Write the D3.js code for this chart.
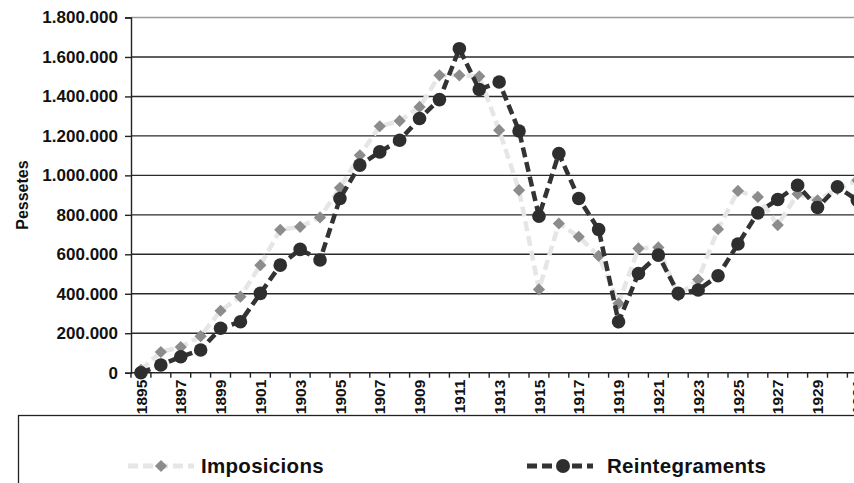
<!DOCTYPE html>
<html>
<head>
<meta charset="utf-8">
<script src="https://cdn.jsdelivr.net/npm/d3@7"></script>
<style>
  body { margin: 0; background: #fff; }
  svg { display: block; font-family: "Liberation Sans", Arial, sans-serif; }
</style>
</head>
<body>
<div id="chart"></div>
<script>
var years = [1895, 1896, 1897, 1898, 1899, 1900, 1901, 1902, 1903, 1904, 1905, 1906,
  1907, 1908, 1909, 1910, 1911, 1912, 1913, 1914, 1915, 1916, 1917, 1918, 1919, 1920,
  1921, 1922, 1923, 1924, 1925, 1926, 1927, 1928, 1929, 1930, 1931];

var imposicions = [15000, 105000, 130000, 185000, 314000, 385000, 545000, 724000, 739000,
  787000, 937000, 1102000, 1249000, 1276000, 1347000, 1507000, 1507000, 1502000, 1229000,
  925000, 422000, 756000, 689000, 592000, 351000, 630000, 635000, 390000, 472000, 727000,
  921000, 891000, 748000, 906000, 874000, 930000, 975000];

var reintegraments = [0, 39000, 81000, 115000, 225000, 258000, 402000, 545000, 625000,
  571000, 883000, 1052000, 1119000, 1178000, 1288000, 1384000, 1642000, 1435000, 1473000,
  1225000, 793000, 1111000, 883000, 726000, 258000, 503000, 596000, 402000, 419000,
  491000, 652000, 810000, 878000, 950000, 837000, 942000, 874000];

var yTicks = [0, 200000, 400000, 600000, 800000, 1000000, 1200000, 1400000, 1600000, 1800000];

var width = 854, height = 483;

var svg = d3.select("#chart").append("svg")
    .attr("width", width)
    .attr("height", height);

var x = d3.scaleBand().domain(years).range([131, 131 + years.length * 19.9]);
var y = d3.scaleLinear().domain([0, 1800000]).range([372.7, 17.5]);

var locale = d3.formatLocale({ decimal: ",", thousands: ".", grouping: [3], currency: ["", ""] });
var fmt = locale.format(",d");

function cx(d) { return x(d) + x.bandwidth() / 2; }

// gridlines
svg.append("g").selectAll("line")
  .data(yTicks.slice(1))
  .enter().append("line")
    .attr("x1", 131).attr("x2", width)
    .attr("y1", function(d) { return y(d); })
    .attr("y2", function(d) { return y(d); })
    .attr("stroke", function(d) { return d === 1800000 ? "#9a9a9a" : "#2a2a2a"; })
    .attr("stroke-width", 1.4);

// y axis
var yAxis = svg.append("g")
    .attr("transform", "translate(131,0)")
    .call(d3.axisLeft(y).tickValues(yTicks).tickFormat(fmt).tickSize(6).tickPadding(7));
yAxis.select(".domain").attr("stroke", "#222").attr("stroke-width", 1.4);
yAxis.selectAll(".tick line").attr("stroke", "#222").attr("stroke-width", 1.4);
yAxis.selectAll("text")
    .attr("font-size", "17px")
    .attr("font-weight", "bold")
    .attr("fill", "#111")
    .attr("font-family", "Liberation Sans, Arial, sans-serif");

// x axis
var xAxis = svg.append("g")
    .attr("transform", "translate(0," + y(0) + ")")
    .call(d3.axisBottom(x).tickSize(0).tickFormat(function(d) { return (d - 1895) % 2 === 0 ? d : ""; }));
xAxis.select(".domain").attr("stroke", "#222").attr("stroke-width", 1.4).attr("d", "M131,0H" + width);
xAxis.selectAll("text")
    .attr("transform", "rotate(-90)")
    .attr("x", -7)
    .attr("y", 0)
    .attr("dy", "0.36em")
    .attr("text-anchor", "end")
    .attr("font-size", "15.5px")
    .attr("font-weight", "bold")
    .attr("fill", "#111")
    .attr("font-family", "Liberation Sans, Arial, sans-serif");

// band boundary ticks
svg.append("g").selectAll("line")
  .data(years)
  .enter().append("line")
    .attr("x1", function(d) { return x(d); })
    .attr("x2", function(d) { return x(d); })
    .attr("y1", y(0)).attr("y2", y(0) + 5)
    .attr("stroke", "#222").attr("stroke-width", 1.4);

// y axis title
svg.append("text")
    .attr("transform", "translate(28," + ((y(0) + y(1800000)) / 2) + ") rotate(-90)")
    .attr("text-anchor", "middle")
    .attr("font-size", "16px")
    .attr("font-weight", "bold")
    .attr("fill", "#111")
    .text("Pessetes");

var line = d3.line()
    .x(function(d, i) { return cx(years[i]); })
    .y(function(d) { return y(d); });

// Imposicions
svg.append("path")
    .datum(imposicions)
    .attr("d", line)
    .attr("fill", "none")
    .attr("stroke", "#e6e6e6")
    .attr("stroke-width", 4.5)
    .attr("stroke-dasharray", "10,5");

var diamond = d3.symbol().type(d3.symbolDiamond2).size(95);
svg.append("g").selectAll("path")
  .data(imposicions)
  .enter().append("path")
    .attr("d", diamond)
    .attr("transform", function(d, i) { return "translate(" + cx(years[i]) + "," + y(d) + ")"; })
    .attr("fill", "#8c8c8c");

// Reintegraments
svg.append("path")
    .datum(reintegraments)
    .attr("d", line)
    .attr("fill", "none")
    .attr("stroke", "#333")
    .attr("stroke-width", 4.5)
    .attr("stroke-dasharray", "10,5");

svg.append("g").selectAll("circle")
  .data(reintegraments)
  .enter().append("circle")
    .attr("cx", function(d, i) { return cx(years[i]); })
    .attr("cy", function(d) { return y(d); })
    .attr("r", 6.8)
    .attr("fill", "#2e2e2e");

// legend
svg.append("rect")
    .attr("x", 18.5).attr("y", 415.5)
    .attr("width", 900).attr("height", 100)
    .attr("fill", "#fff")
    .attr("stroke", "#222")
    .attr("stroke-width", 1.3);

var legendItems = [
  { name: "Imposicions", x0: 128, color: "#e6e6e6", mark: "#8c8c8c", shape: "diamond", tx: 201 },
  { name: "Reintegraments", x0: 527, color: "#333", mark: "#2e2e2e", shape: "circle", tx: 607 }
];

var lg = svg.append("g").selectAll("g")
  .data(legendItems)
  .enter().append("g");

lg.append("line")
    .attr("x1", function(d) { return d.x0; })
    .attr("x2", function(d) { return d.x0 + 66; })
    .attr("y1", 466).attr("y2", 466)
    .attr("stroke", function(d) { return d.color; })
    .attr("stroke-width", 5)
    .attr("stroke-dasharray", "10,5");

lg.each(function(d) {
  var g = d3.select(this);
  if (d.shape === "diamond") {
    g.append("path")
      .attr("d", diamond)
      .attr("transform", "translate(" + (d.x0 + 33) + ",466)")
      .attr("fill", d.mark);
  } else {
    g.append("circle")
      .attr("cx", d.x0 + 36).attr("cy", 466).attr("r", 7)
      .attr("fill", d.mark);
  }
});

lg.append("text")
    .attr("x", function(d) { return d.tx; })
    .attr("y", 466)
    .attr("dy", "0.36em")
    .attr("font-size", "20.5px")
    .attr("font-weight", "bold")
    .attr("letter-spacing", "0.3px")
    .attr("fill", "#111")
    .text(function(d) { return d.name; });
</script>
</body>
</html>
